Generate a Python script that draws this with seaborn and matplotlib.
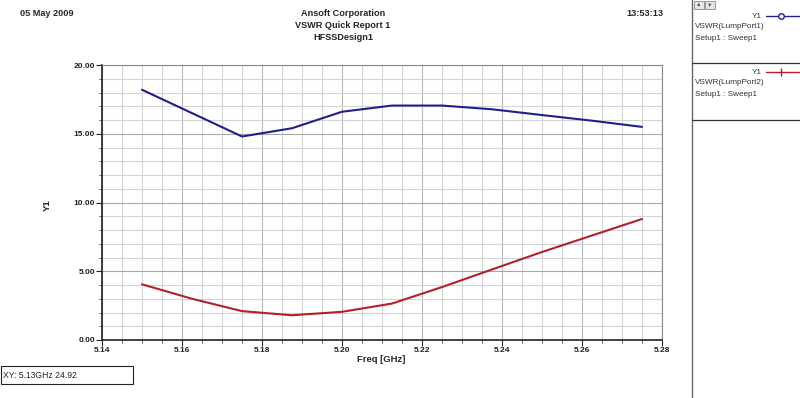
import matplotlib
matplotlib.use("Agg")
import matplotlib.pyplot as plt
import seaborn as sns
import pandas as pd
from matplotlib.lines import Line2D
from matplotlib.patches import Rectangle
from matplotlib.ticker import MultipleLocator, FormatStrFormatter

freq = [5.15, 5.1625, 5.175, 5.1875, 5.2, 5.2125, 5.225, 5.2375, 5.25, 5.2625, 5.275]
vswr_port1 = [18.2, 16.5, 14.8, 15.4, 16.6, 17.05, 17.05, 16.78, 16.36, 15.95, 15.5]
vswr_port2 = [4.05, 3.0, 2.1, 1.8, 2.05, 2.65, 3.85, 5.13, 6.4, 7.6, 8.8]
x_ticks = [5.14, 5.16, 5.18, 5.20, 5.22, 5.24, 5.26, 5.28]
y_ticks = [0, 5, 10, 15, 20]

sns.set_style("white")
plt.rcParams['font.family'] = ['Liberation Sans', 'DejaVu Sans']

W, H = 800, 398
fig = plt.figure(figsize=(W / 100, H / 100), dpi=100)
ax = fig.add_axes([102 / W, 1 - 340 / H, 560 / W, 275 / H])

df1 = pd.DataFrame({"Freq": freq, "VSWR": vswr_port1})
df2 = pd.DataFrame({"Freq": freq, "VSWR": vswr_port2})
sns.lineplot(data=df1, x="Freq", y="VSWR", ax=ax, color="#1f1f8f", linewidth=1.5)
sns.lineplot(data=df2, x="Freq", y="VSWR", ax=ax, color="#b3202a", linewidth=1.5)

ax.set_xlim(5.14, 5.28)
ax.set_ylim(0, 20)
ax.set_xticks(x_ticks)
ax.set_yticks(y_ticks)
ax.xaxis.set_major_formatter(FormatStrFormatter('%.2f'))
ax.yaxis.set_major_formatter(FormatStrFormatter('%.2f'))
ax.xaxis.set_minor_locator(MultipleLocator(0.005))
ax.yaxis.set_minor_locator(MultipleLocator(1.0))
ax.grid(which='minor', color='#d4d4d4', linewidth=0.8)
ax.grid(which='major', color='#a8a8a8', linewidth=0.8)
ax.xaxis.grid(True, which='major', color='#b8b8b8', linewidth=0.8)
ax.set_axisbelow(True)
ax.tick_params(axis='both', which='major', direction='out', length=4, width=0.8,
               labelsize=6, pad=1, colors='#222222', bottom=True, left=True)
ax.tick_params(axis='both', which='minor', direction='out', length=2, width=0.6,
               bottom=True, left=True, colors='#444444')
for lbl in ax.get_xticklabels() + ax.get_yticklabels():
    lbl.set_fontweight('bold')
for s in ['left', 'bottom']:
    ax.spines[s].set_color('#222222')
    ax.spines[s].set_linewidth(1.2)
for s in ['top', 'right']:
    ax.spines[s].set_color('#888888')
    ax.spines[s].set_linewidth(0.8)
ax.set_xlabel("Freq [GHz]", fontsize=6.8, fontweight='bold')
ax.xaxis.set_label_coords((381 - 102) / 560, -(360 - 340) / 275)
ax.xaxis.label.set_va('center')
ax.set_ylabel("Y1", fontsize=6.8, fontweight='bold')
ax.yaxis.set_label_coords(-(102 - 47) / 560, (340 - 205) / 275)
ax.yaxis.label.set_va('center')

# header texts
hfs = 6.6
fig.text(20 / W, 1 - 14 / H, "05 May 2009", fontsize=hfs, fontweight='bold', va='center', ha='left')
fig.text(343 / W, 1 - 13 / H, "Ansoft Corporation", fontsize=hfs, fontweight='bold', va='center', ha='center')
fig.text(343 / W, 1 - 26 / H, "VSWR Quick Report 1", fontsize=hfs, fontweight='bold', va='center', ha='center')
fig.text(343 / W, 1 - 38 / H, "HFSSDesign1", fontsize=hfs, fontweight='bold', va='center', ha='center')
fig.text(663 / W, 1 - 14 / H, "13:53:13", fontsize=hfs, fontweight='bold', va='center', ha='right')

# readout box
fig.patches.append(Rectangle((1 / W, 1 - 384 / H), 132 / W, 18 / H, transform=fig.transFigure,
                             facecolor='white', edgecolor='#222222', linewidth=0.8))
fig.text(3 / W, 1 - 375 / H, "XY: 5.13GHz 24.92", fontsize=6.2, va='center', ha='left')

# legend panel
fig.add_artist(Line2D([692 / W, 692 / W], [0, 1], transform=fig.transFigure, color='#666666', linewidth=1.0))
fig.add_artist(Line2D([692 / W, 1], [1 - 63 / H, 1 - 63 / H], transform=fig.transFigure, color='#333333', linewidth=0.9))
fig.add_artist(Line2D([692 / W, 1], [1 - 120 / H, 1 - 120 / H], transform=fig.transFigure, color='#333333', linewidth=0.9))
for bx in (694, 705):
    fig.patches.append(Rectangle((bx / W, 1 - 9 / H), 10 / W, 8 / H, transform=fig.transFigure,
                                 facecolor='#e6e6e6', edgecolor='#888888', linewidth=0.6))
fig.text(699 / W, 1 - 5 / H, "▲", fontsize=4, ha='center', va='center', color='#555555')
fig.text(710 / W, 1 - 5 / H, "▼", fontsize=4, ha='center', va='center', color='#555555')

lfs = 5.9
fig.text(762 / W, 1 - 16 / H, "Y1", fontsize=lfs, ha='right', va='center', color='#333333')
fig.add_artist(Line2D([766 / W, 1], [1 - 16 / H, 1 - 16 / H], transform=fig.transFigure, color='#1f1f8f', linewidth=1.0))
fig.add_artist(Line2D([781 / W], [1 - 16 / H], transform=fig.transFigure, marker='o', markersize=4,
                      markerfacecolor='white', markeredgecolor='#1f1f8f', linestyle='none'))
fig.text(695 / W, 1 - 27 / H, "VSWR(LumpPort1)", fontsize=lfs, ha='left', va='center', color='#333333')
fig.text(695 / W, 1 - 38 / H, "Setup1 : Sweep1", fontsize=lfs, ha='left', va='center', color='#333333')

fig.text(762 / W, 1 - 72 / H, "Y1", fontsize=lfs, ha='right', va='center', color='#333333')
fig.add_artist(Line2D([766 / W, 1], [1 - 72 / H, 1 - 72 / H], transform=fig.transFigure, color='#b3202a', linewidth=1.0))
fig.add_artist(Line2D([781 / W], [1 - 72 / H], transform=fig.transFigure, marker='|', markersize=6,
                      markeredgecolor='#b3202a', linestyle='none'))
fig.text(695 / W, 1 - 83 / H, "VSWR(LumpPort2)", fontsize=lfs, ha='left', va='center', color='#333333')
fig.text(695 / W, 1 - 94 / H, "Setup1 : Sweep1", fontsize=lfs, ha='left', va='center', color='#333333')

fig.savefig("out.png", dpi=100)
